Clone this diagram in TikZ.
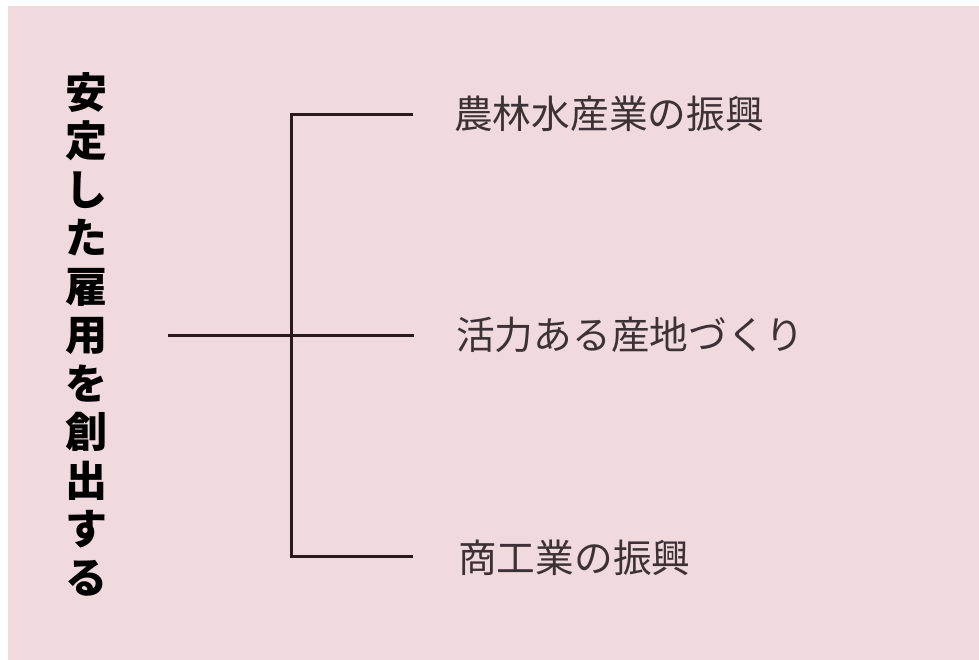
\documentclass[tikz,border=0pt]{standalone}
\usepackage{fontspec}
\newfontfamily\cjk{Noto Sans CJK JP}
\definecolor{bgpink}{HTML}{F0DADD}
\definecolor{linecol}{HTML}{2A1A1E}
\definecolor{labelcol}{HTML}{3C3236}
\tikzset{
  conn/.style={draw=linecol, line width=3pt, line join=miter, line cap=butt},
  branchlabel/.style={anchor=west, inner sep=0pt, text=labelcol, font=\cjk\fontsize{38.7}{42}\selectfont},
  rootlabel/.style={inner sep=0pt, align=center, text=black, font=\cjk\bfseries\fontsize{42}{48.5}\selectfont}
}
\begin{document}
\begin{tikzpicture}[x=1pt,y=-1pt]
\useasboundingbox (0,0) rectangle (979,659);
\fill[white] (0,0) rectangle (979,659);
\fill[bgpink] (8,6) rectangle (995,675);
\node[rootlabel] (root) at (86,334) {安\\定\\し\\た\\雇\\用\\を\\創\\出\\す\\る};
\coordinate (rootend) at (168,335);
\coordinate (hub) at (291,335);
\coordinate (topcorner) at (291,114);
\coordinate (topend) at (413,114);
\coordinate (midend) at (414,335);
\coordinate (botcorner) at (291,556);
\coordinate (botend) at (413,556);
\node[branchlabel] (b1) at (454,114) {農林水産業の振興};
\node[branchlabel] (b2) at (456,335) {活力ある産地づくり};
\node[branchlabel] (b3) at (458,558) {商工業の振興};
\draw[conn] (topend) -- (topcorner) -- (botcorner) -- (botend);
\draw[conn] (rootend) -- (hub) -- (midend);
\end{tikzpicture}
\end{document}
